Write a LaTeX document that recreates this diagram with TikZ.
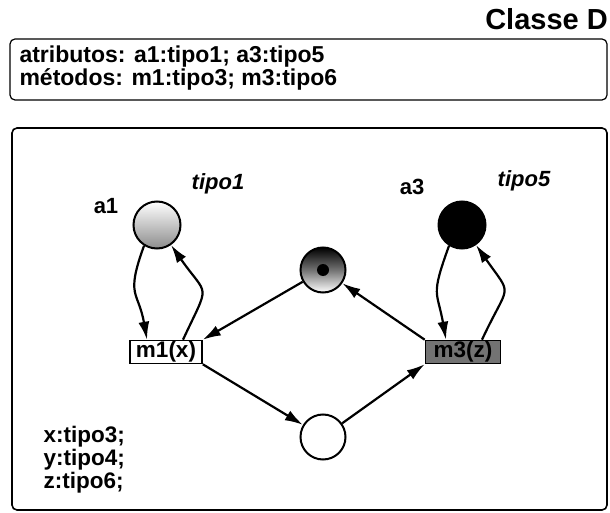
\documentclass[tikz,border=0pt]{standalone}
\usepackage{fontspec}
\setmainfont{Liberation Sans}
\usepackage{tikz}
\usetikzlibrary{positioning, arrows.meta, shadings}
\definecolor{ink}{RGB}{0,0,0}
\tikzset{
  place/.style={circle,draw=ink,line width=2pt,minimum size=47pt,inner sep=0pt},
  trans/.style={draw=ink,line width=1.6pt,inner sep=1pt,minimum height=21pt,
    font=\fontsize{22.5}{23}\selectfont\bfseries},
  arr/.style={-{Latex[length=18pt,width=11pt]},line width=2.2pt},
  lbl/.style={font=\fontsize{22}{23}\selectfont\bfseries,text=ink},
  frame/.style={draw=ink,line width=1.6pt,rounded corners=5pt},
}

\begin{document}
\begin{tikzpicture}[x=1pt,y=1pt]
  \useasboundingbox (0,0) rectangle (610,512);
  % heading and signature box
  \node[font=\fontsize{29}{30}\selectfont\bfseries,anchor=east,inner sep=1pt] (cls) at (609,493) {Classe D};
  \draw[frame,line width=1.2pt] (10,473) rectangle (607,412);
  \node[font=\fontsize{23}{23}\selectfont\bfseries,anchor=west,align=left] (sig) at (16,444)
    {atributos: a1:tipo1; a3:tipo5\\métodos: m1:tipo3; m3:tipo6};
  % body of the class
  \draw[frame] (12,384) rectangle (607,2);

  % places
  \node[place,top color=white,bottom color=black!45] (a1) at (157,287) {};
  \node[place,fill=ink] (a3) at (462,287) {};
  \node[place,minimum size=45pt,top color=ink,bottom color=white,middle color=black!55] (pt) at (323,242) {};
  \fill[ink] (pt.center) circle (6pt);
  \node[place,minimum size=45pt,fill=white] (pb) at (323,75) {};

  % transitions
  \node[trans,fill=white,minimum width=72pt] (m1) at (166,160) {m1(x)};
  \node[trans,fill=black!55,minimum width=75pt] (m3) at (463,160) {m3(z)};

  % labels of the places
  \node[lbl] (la1) at (106,306) {a1};
  \node[lbl,font=\fontsize{22}{23}\selectfont\bfseries\itshape] (ta1) at (218,328) {tipo1};
  \node[lbl] (la3) at (412,325) {a3};
  \node[lbl,font=\fontsize{22}{23}\selectfont\bfseries\itshape] (ta3) at (524,331) {tipo5};
  \node[lbl,anchor=north west,align=left,font=\fontsize{22.5}{23}\selectfont\bfseries] (vars) at (40,89)
    {x:tipo3;\\y:tipo4;\\z:tipo6;};

  % arcs (each read/write pair forms an oval loop)
  \draw[arr] (a1.-122) .. controls +(-110:55) and +(100:50) .. ([xshift=-19pt]m1.north);
  \draw[arr] ([xshift=17pt]m1.north) .. controls +(65:65) and +(-55:65) .. (a1.-55);
  \draw[arr] (a3.-122) .. controls +(-110:55) and +(100:50) .. ([xshift=-17pt]m3.north);
  \draw[arr] ([xshift=19pt]m3.north) .. controls +(65:65) and +(-55:65) .. (a3.-55);
  \draw[arr] (pt) -- (m1.north east);
  \draw[arr] (m3.north west) -- (pt);
  \draw[arr] (m1.south east) -- (pb);
  \draw[arr] (pb) -- (m3.south west);
\end{tikzpicture}
\end{document}
